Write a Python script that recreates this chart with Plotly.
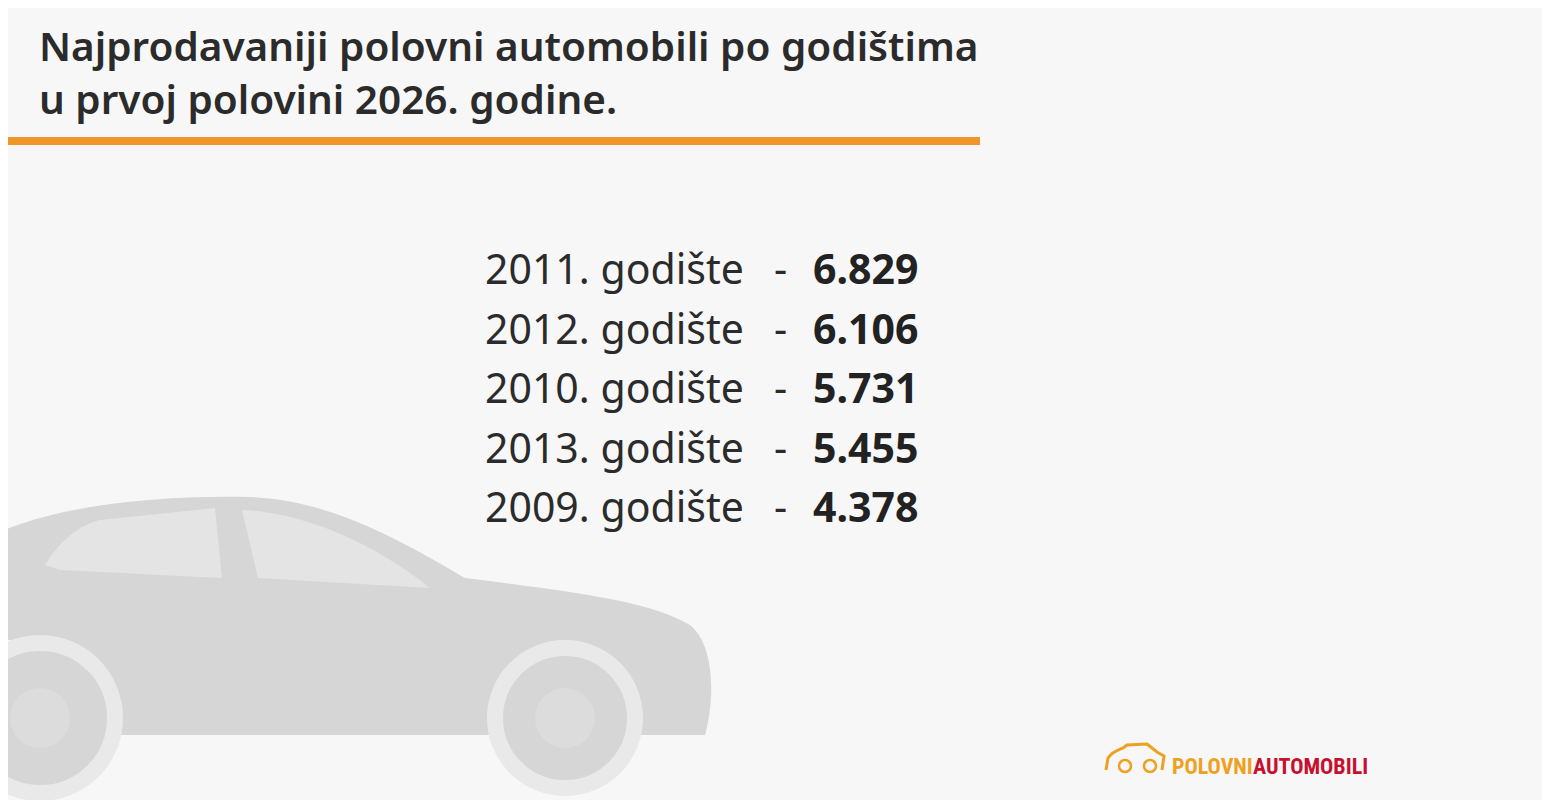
import plotly.graph_objects as go

years = ["2011", "2012", "2010", "2013", "2009"]
counts = ["6.829", "6.106", "5.731", "5.455", "4.378"]
title_lines = ["Najprodavaniji polovni automobili po godištima", "u prvoj polovini 2026. godine."]

fig = go.Figure()
W, H = 1550, 800
OFF = 8  # page body margin, shift the drawing so it lines up with the window

shapes = []
# background car silhouette
car = "#d6d6d6"
shapes.append(dict(type="path", layer="below", line=dict(width=0), fillcolor=car,
    path="M 0 532 C 60 505 160 495 250 497 C 330 500 400 540 465 578 "
         "C 560 590 650 600 690 625 C 715 645 715 700 705 735 L 640 735 "
         "C 630 670 590 640 565 640 C 520 640 495 690 495 735 L 120 735 "
         "C 110 680 80 645 40 640 L 0 640 Z"))
shapes.append(dict(type="path", layer="below", line=dict(width=0), fillcolor="#e4e4e4",
    path="M 45 565 C 60 540 80 525 100 520 L 215 508 L 222 578 L 60 570 Z"))
shapes.append(dict(type="path", layer="below", line=dict(width=0), fillcolor="#e4e4e4",
    path="M 242 510 C 300 512 370 540 430 588 L 258 578 Z"))
for cx, cy, r in [(565, 718, 70), (40, 718, 75)]:
    shapes.append(dict(type="circle", layer="below", line=dict(color="#e9e9e9", width=16),
                       fillcolor=car, x0=cx - r, x1=cx + r, y0=cy - r, y1=cy + r))
    shapes.append(dict(type="circle", layer="below", line=dict(width=0), fillcolor="#dcdcdc",
                       x0=cx - 30, x1=cx + 30, y0=cy - 30, y1=cy + 30))
# orange rule
shapes.append(dict(type="line", x0=0, x1=980, y0=141, y1=141, line=dict(color="#f0952a", width=8)))
# logo icon
shapes.append(dict(type="path", line=dict(color="#f0a020", width=3),
    path="M 1106 770 L 1108 758 C 1112 752 1118 750 1123 748 L 1127 745 L 1147 744 L 1157 752 L 1164 756 L 1162 770"))
for cx in [1125, 1150]:
    shapes.append(dict(type="circle", line=dict(color="#f0a020", width=2.5),
                       x0=cx - 6, x1=cx + 6, y0=760, y1=772))

ann = []
font = "Noto Sans"
for i, line in enumerate(title_lines):
    ann.append(dict(x=37, y=45 + i * 53, text=line, xanchor="left", yanchor="middle", showarrow=False,
                    font=dict(family=font, size=40.5, color="#2b2b2b", weight=600)))
y0, dy = 268, 59.5
for i, (yr, c) in enumerate(zip(years, counts)):
    y = y0 + i * dy
    ann.append(dict(x=483, y=y, text=f"{yr}. godište", xanchor="left", yanchor="middle", showarrow=False,
                    font=dict(family=font, size=41, color="#2b2b2b")))
    ann.append(dict(x=780, y=y, text="-", xanchor="center", yanchor="middle", showarrow=False,
                    font=dict(family=font, size=41, color="#2b2b2b")))
    ann.append(dict(x=920, y=y, text=f"<b>{c}</b>", xanchor="right", yanchor="middle", showarrow=False,
                    font=dict(family=font, size=41, color="#222222")))
ann.append(dict(x=1170, y=766, text="<span style='color:#f0a020'>POLOVNI</span><span style='color:#c8102e'>AUTOMOBILI</span>",
                xanchor="left", yanchor="middle", showarrow=False,
                font=dict(family="Roboto Condensed, Liberation Sans Narrow, Roboto", size=22, weight=700)))

fig.update_layout(
    width=W, height=H, margin=dict(l=0, r=0, t=0, b=0),
    paper_bgcolor="#f7f7f7", plot_bgcolor="rgba(0,0,0,0)",
    xaxis=dict(range=[OFF, W + OFF], visible=False, fixedrange=True),
    yaxis=dict(range=[H + OFF, OFF], visible=False, fixedrange=True),
    shapes=shapes, annotations=ann, showlegend=False,
)
fig.write_html("out.html")
